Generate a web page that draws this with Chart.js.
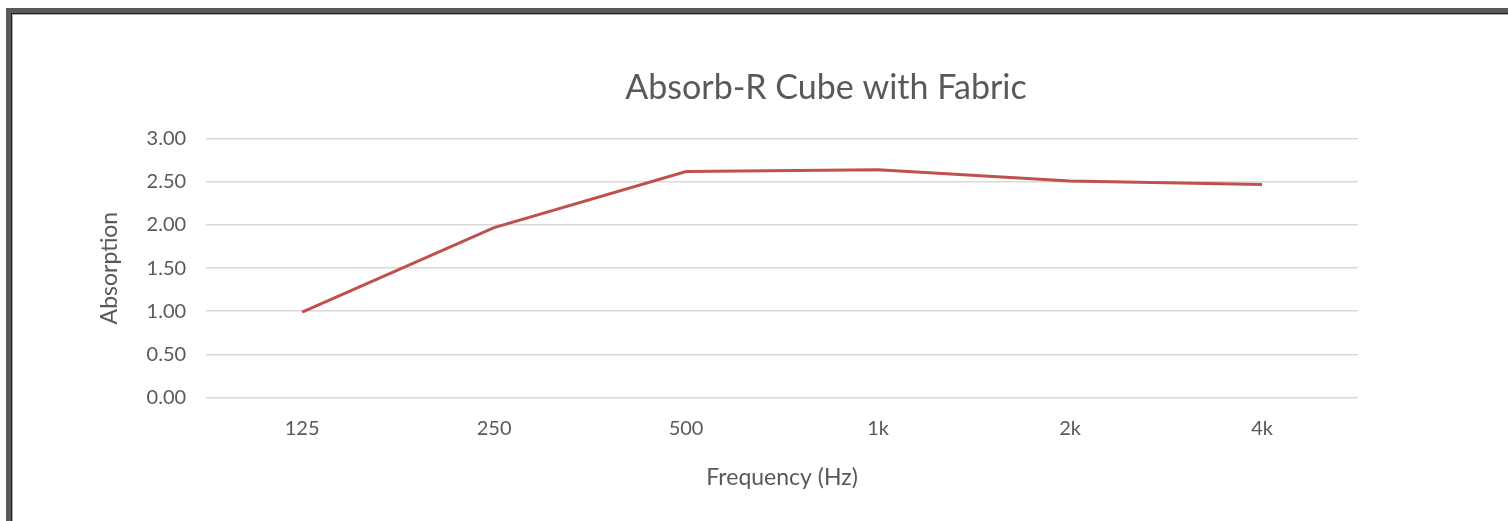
<!DOCTYPE html>
<html>
<head>
<meta charset="utf-8">
<script src="https://cdn.jsdelivr.net/npm/chart.js@4"></script>
<style>
  html, body { margin: 0; padding: 0; background: #fff; overflow: hidden; }
  body { width: 1508px; height: 521px; position: relative; }
  #frame {
    position: absolute; left: 6px; top: 8px; width: 1700px; height: 700px;
    border-left: 5px solid #5a5a5a; border-top: 5px solid #5a5a5a;
    box-shadow: inset 1px 1px 0 #1e1e1e, inset 2px 2px 0 #b0b0b0;
  }
  #wrap { position: absolute; left: 12px; top: 14px; width: 1628px; height: 507px; }
</style>
</head>
<body>
<div id="frame"></div>
<div id="wrap"><canvas id="chart"></canvas></div>
<script>
// ---------- Data ----------
const frequencies = ['125', '250', '500', '1k', '2k', '4k'];
const absorption = [0.99, 1.97, 2.62, 2.64, 2.51, 2.47];
const yTicks = [0, 0.5, 1, 1.5, 2, 2.5, 3];

const textColor = '#595959';
const fontFamily = 'Lato, "Open Sans", sans-serif';

// Excel centres the title on the whole chart box, not on the padded area
const centreTitle = {
  id: 'centreTitle',
  afterLayout(chart) {
    const t = chart.titleBlock;
    if (!t) return;
    t.left = 0;
    t.right = chart.width;
    t.width = chart.width;
  }
};

new Chart(document.getElementById('chart'), {
  type: 'line',
  data: {
    labels: frequencies,
    datasets: [{
      label: 'Absorb-R Cube with Fabric',
      data: absorption,
      borderColor: '#c0504d',
      backgroundColor: '#c0504d',
      borderWidth: 3,
      pointRadius: 0,
      tension: 0,
      borderCapStyle: 'butt'
    }]
  },
  options: {
    responsive: true,
    maintainAspectRatio: false,
    animation: false,
    layout: { padding: { top: 44, left: 84, right: 282, bottom: 30 } },
    plugins: {
      legend: { display: false },
      tooltip: { enabled: false },
      title: {
        display: true,
        text: 'Absorb-R Cube with Fabric',
        color: textColor,
        font: { family: fontFamily, size: 34, weight: 'normal' },
        padding: { top: 10, bottom: 30 }
      }
    },
    scales: {
      x: {
        offset: true,
        grid: { display: false, drawTicks: false },
        border: { display: false },
        ticks: { color: textColor, font: { family: fontFamily, size: 20 }, padding: 19 },
        title: {
          display: true,
          text: 'Frequency (Hz)',
          color: textColor,
          font: { family: fontFamily, size: 23 },
          padding: { top: 4, bottom: 0 }
        }
      },
      y: {
        min: 0,
        max: 3,
        afterBuildTicks: (axis) => { axis.ticks = yTicks.map(v => ({ value: v })); },
        grid: { color: '#d9d9d9', lineWidth: 1.5, drawTicks: false },
        border: { display: false },
        ticks: {
          color: textColor,
          font: { family: fontFamily, size: 20 },
          padding: 20,
          callback: (v) => Number(v).toFixed(2)
        },
        title: {
          display: true,
          text: 'Absorption',
          color: textColor,
          font: { family: fontFamily, size: 23 },
          padding: { top: 0, bottom: 3 }
        }
      }
    }
  },
  plugins: [centreTitle]
});
</script>
</body>
</html>
